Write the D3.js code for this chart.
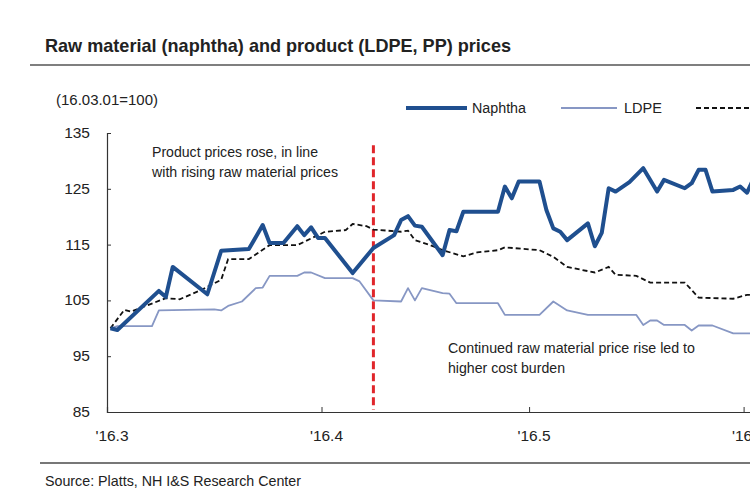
<!DOCTYPE html>
<html>
<head>
<meta charset="utf-8">
<script src="https://cdn.jsdelivr.net/npm/d3@7"></script>
<style>
  html, body { margin: 0; padding: 0; background: #fff; }
  svg { display: block; }
  text { font-family: "Liberation Sans Narrow", "Arial Narrow", "Liberation Sans", Arial, sans-serif; fill: #222; }
</style>
</head>
<body>
<svg id="chart" width="750" height="495"></svg>
<script>
// ---- data (index 16.03.01 = 100) ----
const monthTicks = ["2016-03-01", "2016-04-01", "2016-05-01", "2016-06-01"];
const monthLabels = ["'16.3", "'16.4", "'16.5", "'16.6"];
const yTicks = [85, 95, 105, 115, 125, 135];
const seriesNames = ["Naphtha", "LDPE", "PP"];
const markerDate = "2016-04-08";

const naphtha = [
  ["2016-03-01",100.0],["2016-03-02",99.7],["2016-03-08",106.7],["2016-03-09",105.6],["2016-03-10",111.0],
  ["2016-03-15",106.1],["2016-03-17",113.9],["2016-03-21",114.2],["2016-03-23",118.5],["2016-03-24",115.3],
  ["2016-03-26",115.3],["2016-03-28",118.3],["2016-03-29",116.7],["2016-03-30",118.1],["2016-03-31",116.2],
  ["2016-04-01",116.2],["2016-04-05",109.9],["2016-04-08",114.4],["2016-04-11",116.7],["2016-04-12",119.4],
  ["2016-04-13",120.1],["2016-04-14",118.4],["2016-04-15",118.2],["2016-04-18",113.1],["2016-04-19",117.6],
  ["2016-04-20",117.4],["2016-04-21",120.9],["2016-04-26",120.9],["2016-04-27",125.4],["2016-04-28",123.3],
  ["2016-04-29",126.3],["2016-05-02",126.3],["2016-05-03",121.2],["2016-05-04",117.9],["2016-05-05",117.3],
  ["2016-05-06",115.8],["2016-05-09",118.8],["2016-05-10",114.7],["2016-05-11",117.1],["2016-05-12",125.1],
  ["2016-05-13",124.5],["2016-05-15",126.2],["2016-05-17",128.7],["2016-05-19",124.5],["2016-05-20",126.6],
  ["2016-05-23",125.1],["2016-05-24",126.0],["2016-05-25",128.4],["2016-05-26",128.4],["2016-05-27",124.5],
  ["2016-05-30",124.8],["2016-05-31",125.4],["2016-06-01",124.3],["2016-06-02",127.0]
];

const ldpe = [
  ["2016-03-01",100.0],["2016-03-02",100.4],["2016-03-07",100.4],["2016-03-08",103.2],["2016-03-16",103.4],
  ["2016-03-17",103.2],["2016-03-18",104.0],["2016-03-20",104.8],["2016-03-22",107.2],["2016-03-23",107.3],
  ["2016-03-24",109.4],["2016-03-28",109.4],["2016-03-29",110.0],["2016-03-30",110.0],["2016-04-01",109.0],
  ["2016-04-05",109.0],["2016-04-06",108.4],["2016-04-08",105.0],["2016-04-12",104.8],["2016-04-13",107.2],
  ["2016-04-14",105.0],["2016-04-15",107.2],["2016-04-18",106.3],["2016-04-19",106.2],["2016-04-20",104.5],
  ["2016-04-26",104.5],["2016-04-27",102.4],["2016-05-02",102.4],["2016-05-04",104.8],["2016-05-06",103.2],
  ["2016-05-09",102.4],["2016-05-16",102.4],["2016-05-17",100.6],["2016-05-18",101.4],["2016-05-19",101.4],
  ["2016-05-20",100.6],["2016-05-23",100.6],["2016-05-24",99.6],["2016-05-25",100.5],["2016-05-27",100.5],
  ["2016-05-30",99.1],["2016-06-03",99.1]
];

const pp = [
  ["2016-03-01",100.0],["2016-03-03",103.3],["2016-03-04",103.0],["2016-03-09",105.4],["2016-03-11",105.2],
  ["2016-03-14",106.8],["2016-03-17",108.7],["2016-03-18",112.4],["2016-03-21",112.4],["2016-03-24",114.9],
  ["2016-03-28",114.9],["2016-04-01",117.3],["2016-04-04",117.6],["2016-04-05",118.7],["2016-04-07",118.3],
  ["2016-04-08",117.7],["2016-04-12",117.3],["2016-04-13",117.5],["2016-04-14",115.8],["2016-04-16",115.0],
  ["2016-04-18",114.0],["2016-04-21",112.9],["2016-04-23",113.6],["2016-04-26",114.0],["2016-04-27",114.5],
  ["2016-05-02",114.0],["2016-05-04",112.8],["2016-05-06",111.0],["2016-05-10",110.0],["2016-05-12",111.0],
  ["2016-05-13",109.6],["2016-05-16",109.4],["2016-05-18",108.2],["2016-05-23",108.2],["2016-05-25",105.5],
  ["2016-05-30",105.3],["2016-06-01",106.0],["2016-06-03",105.9]
];

// ---- drawing ----
const svg = d3.select("#chart");
const parse = d3.utcParse("%Y-%m-%d");
const HALF_DAY = 12 * 3600 * 1000;

const x = d3.scaleUtc()
  .domain([parse("2016-03-01"), parse("2016-06-01")])
  .range([107, 743.6]);
const y = d3.scaleLinear().domain([85, 135]).range([412, 133]);
const xd = s => x(new Date(parse(s).getTime() + HALF_DAY));

svg.append("rect").attr("width", 750).attr("height", 495).attr("fill", "#fff");

// title + rules
svg.append("text").attr("x", 45).attr("y", 52)
  .attr("font-size", 19).attr("font-weight", "bold").attr("fill", "#111")
  .attr("textLength", 466).attr("lengthAdjust", "spacingAndGlyphs")
  .text("Raw material (naphtha) and product (LDPE, PP) prices");
svg.append("line").attr("x1", 30).attr("x2", 750).attr("y1", 65).attr("y2", 65)
  .attr("stroke", "#555").attr("stroke-width", 1.5);
svg.append("line").attr("x1", 40).attr("x2", 750).attr("y1", 463).attr("y2", 463)
  .attr("stroke", "#777").attr("stroke-width", 2);
svg.append("text").attr("x", 45).attr("y", 486).attr("font-size", 14.5)
  .attr("textLength", 256).attr("lengthAdjust", "spacingAndGlyphs")
  .text("Source: Platts, NH I&S Research Center");

// unit label
svg.append("text").attr("x", 56).attr("y", 105).attr("font-size", 14)
  .attr("textLength", 102).attr("lengthAdjust", "spacingAndGlyphs")
  .text("(16.03.01=100)");

// y axis
const yAxis = svg.append("g").attr("transform", "translate(107,0)")
  .call(d3.axisRight(y).tickValues(yTicks).tickSize(4).tickFormat(""));
yAxis.select(".domain").attr("stroke", "#333").attr("stroke-width", 1.2);
yAxis.selectAll(".tick line").attr("stroke", "#333");
svg.append("g").selectAll("text").data(yTicks).join("text")
  .attr("x", 90).attr("y", d => y(d) + 5).attr("text-anchor", "end")
  .attr("font-size", 15.5).text(d => d);

// x axis (extends past right edge)
const xFar = d3.scaleUtc().domain([parse("2016-03-01"), parse("2016-07-01")])
  .range([107, x(parse("2016-07-01"))]);
const xAxis = svg.append("g").attr("transform", "translate(0,412)")
  .call(d3.axisTop(xFar).tickValues(monthTicks.map(parse)).tickSize(5).tickFormat(""));
xAxis.select(".domain").attr("stroke", "#333").attr("stroke-width", 1.2);
xAxis.selectAll(".tick line").attr("stroke", "#333");
svg.append("g").selectAll("text").data(monthTicks).join("text")
  .attr("x", (d, i) => x(parse(d)) + 5).attr("y", 441).attr("text-anchor", "middle")
  .attr("font-size", 15.5).text((d, i) => monthLabels[i]);

// red marker line
svg.append("line")
  .attr("x1", xd(markerDate)).attr("x2", xd(markerDate))
  .attr("y1", y(132.8)).attr("y2", y(85.4))
  .attr("stroke", "#e0262b").attr("stroke-width", 3).attr("stroke-dasharray", "8,4");

const line = d3.line().x(d => xd(d[0])).y(d => y(d[1]));

svg.append("path").datum(ldpe).attr("d", line)
  .attr("fill", "none").attr("stroke", "#8797c4").attr("stroke-width", 1.8).attr("stroke-linejoin", "round");
svg.append("path").datum(pp).attr("d", line)
  .attr("fill", "none").attr("stroke", "#111").attr("stroke-width", 1.8).attr("stroke-dasharray", "5,3");
svg.append("path").datum(naphtha).attr("d", line)
  .attr("fill", "none").attr("stroke", "#1f4f8f").attr("stroke-width", 4).attr("stroke-linejoin", "round");

// legend
const legY = 108;
svg.append("line").attr("x1", 406).attr("x2", 467).attr("y1", legY).attr("y2", legY)
  .attr("stroke", "#1f4f8f").attr("stroke-width", 4);
svg.append("text").attr("x", 472).attr("y", legY + 5).attr("font-size", 14)
  .attr("textLength", 54).attr("lengthAdjust", "spacingAndGlyphs").text(seriesNames[0]);
svg.append("line").attr("x1", 561).attr("x2", 617).attr("y1", legY).attr("y2", legY)
  .attr("stroke", "#8797c4").attr("stroke-width", 1.8);
svg.append("text").attr("x", 624).attr("y", legY + 5).attr("font-size", 14)
  .attr("textLength", 38).attr("lengthAdjust", "spacingAndGlyphs").text(seriesNames[1]);
svg.append("line").attr("x1", 696).attr("x2", 760).attr("y1", legY).attr("y2", legY)
  .attr("stroke", "#111").attr("stroke-width", 1.8).attr("stroke-dasharray", "5,3");
svg.append("text").attr("x", 765).attr("y", legY + 5).attr("font-size", 14).text(seriesNames[2]);

// annotations
const ann = [
  ["Product prices rose, in line", 152, 157, 166],
  ["with rising raw material prices", 152, 177, 186],
  ["Continued raw material price rise led to", 448, 353, 247],
  ["higher cost burden", 448, 373, 117]
];
svg.append("g").selectAll("text").data(ann).join("text")
  .attr("x", d => d[1]).attr("y", d => d[2]).attr("font-size", 14.5)
  .attr("textLength", d => d[3]).attr("lengthAdjust", "spacingAndGlyphs")
  .text(d => d[0]);
</script>
</body>
</html>
